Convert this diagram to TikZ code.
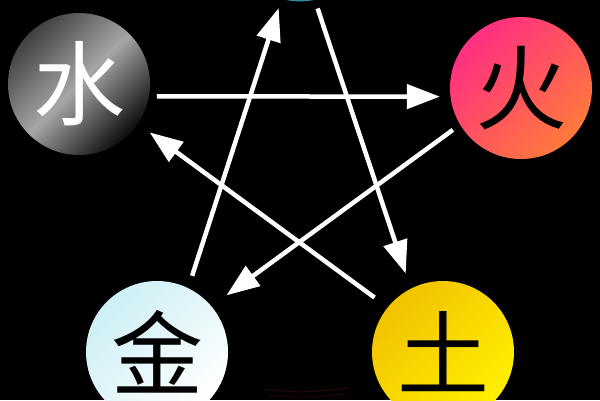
\documentclass[tikz,border=0pt]{standalone}
\usepackage{fontspec}
\newfontfamily\cjk{Noto Sans CJK SC}
\usetikzlibrary{arrows.meta}
\definecolor{firepink}{HTML}{FF2E82}
\definecolor{fireorange}{HTML}{FF7A3C}
\definecolor{earthgold}{HTML}{F2C200}
\definecolor{earthyellow}{HTML}{FFF000}
\definecolor{metalcyan}{HTML}{CDEFF5}
\definecolor{woodteal}{HTML}{2F8C9E}
\definecolor{faintred}{HTML}{2A0303}
\tikzset{
  element/.style={circle, minimum size=142pt, inner sep=0pt, outer sep=0pt,
    font=\cjk\fontsize{92}{92}\selectfont},
  arr/.style={draw=white, line width=4.5pt,
    -{Triangle[length=33pt,width=24pt]}}
}
\begin{document}
\begin{tikzpicture}[x=1pt,y=1pt]
\fill[black] (0,0) rectangle (600,400);
\useasboundingbox (0,0) rectangle (600,400);
\begin{scope}
\clip (0,0) rectangle (600,400);
\node[element, top color=black!75, bottom color=black!95, middle color=gray!70, shading angle=45, text=white] (water) at (79,316) {水};
\node[element, top color=firepink, bottom color=fireorange, shading angle=45] (fire) at (521,312) {火};
\node[element, top color=metalcyan, bottom color=white, shading angle=45] (metal) at (157,48) {金};
\node[element, top color=earthgold, bottom color=earthyellow, shading angle=45] (earth) at (443,48) {土};
\node[element, fill=woodteal] (wood) at (300,469.6) {};
\draw[faintred, line width=1.2pt] (265,11) .. controls (300,7) .. (348,12);
\draw[faintred, line width=1pt] (268,5) .. controls (305,2) .. (345,6);
\end{scope}
\draw[arr, shorten <=8pt, shorten >=10.6pt] (water.-10.2) -- (fire.187);
\draw[arr, shorten <=9pt, shorten >=18.7pt] (fire.211.7) -- (metal.40);
\draw[arr, shorten <=13pt, shorten >=9.5pt] (metal.64.4) -- (wood.255.6);
\draw[arr, shorten <=9pt, shorten >=16pt] (wood.282.3) -- (earth.117.5);
\draw[arr, shorten <=16.5pt, shorten >=14.7pt] (earth.141) -- (water.-34.1);
\end{tikzpicture}
\end{document}
